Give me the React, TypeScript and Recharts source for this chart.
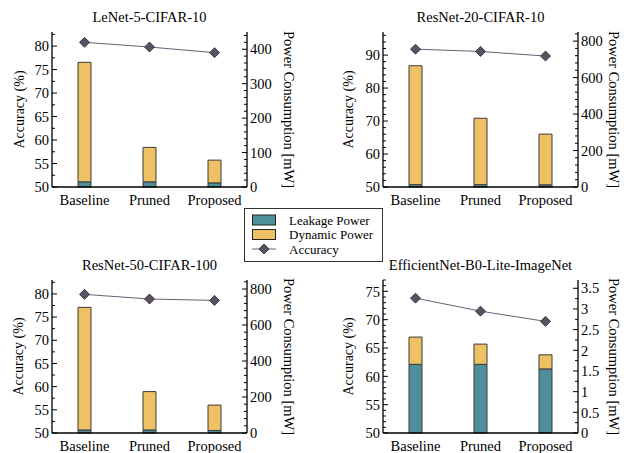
import { Bar, ComposedChart, Line, XAxis, YAxis } from "recharts"

const categories = ["Baseline", "Pruned", "Proposed"]

// power in mW, accuracy in %
const lenetLeakage = [15, 15, 12]
const lenetDynamic = [347, 100, 66]
const lenetAccuracy = [80.8, 79.8, 78.6]

const resnet20Leakage = [13, 13, 12]
const resnet20Dynamic = [652, 364, 278]
const resnet20Accuracy = [91.8, 91.1, 89.7]

const resnet50Leakage = [17, 17, 14]
const resnet50Dynamic = [681, 213, 141]
const resnet50Accuracy = [79.9, 78.9, 78.6]

const effnetLeakage = [1.66, 1.66, 1.55]
const effnetDynamic = [0.66, 0.49, 0.34]
const effnetAccuracy = [73.8, 71.5, 69.7]

const accTicks5 = [50, 55, 60, 65, 70, 75, 80]
const accTicks10 = [50, 60, 70, 80, 90]
const accTicksEff = [50, 55, 60, 65, 70, 75]
const powTicksLenet = [0, 100, 200, 300, 400]
const powTicksResnet = [0, 200, 400, 600, 800]
const powTicksEff = [0, 0.5, 1, 1.5, 2, 2.5, 3, 3.5]

const LEAK = "#4f8f9c"
const DYN = "#edc164"
const LINE = "#6b6078"
const DIAMOND = "#5b5066"
const FONT = "Liberation Serif, DejaVu Serif, serif"

function withMinors(majors: number[], step: number, max: number) {
  const out: number[] = []
  const n = Math.floor((max - majors[0]) / step + 1e-6)
  for (let i = 0; i <= n; i++) out.push(+(majors[0] + i * step).toFixed(4))
  return out
}

const isMajor = (v: number, majors: number[]) =>
  majors.some((m) => Math.abs(m - v) < 1e-6)

function AxisTick(props: any) {
  const { x, y, payload, majors, side } = props
  const major = isMajor(payload.value, majors)
  const len = major ? 5 : 3
  const dir = side === "left" ? 1 : -1
  return (
    <g>
      <line x1={x} x2={x + dir * len} y1={y} y2={y} stroke="#000" strokeWidth={1} />
      {major && (
        <text
          x={x - dir * 3}
          y={y}
          dy="0.36em"
          textAnchor={side === "left" ? "end" : "start"}
          fontSize={14.5}
          fontFamily={FONT}
          fill="#000"
        >
          {String(payload.value)}
        </text>
      )}
    </g>
  )
}

function Diamond(props: any) {
  const { cx, cy } = props
  if (cx == null || cy == null) return null
  const r = 5
  return (
    <polygon
      points={`${cx},${cy - r} ${cx + r},${cy} ${cx},${cy + r} ${cx - r},${cy}`}
      fill={DIAMOND}
      stroke="#222"
      strokeWidth={0.8}
    />
  )
}

interface PanelProps {
  title: string
  leakage: number[]
  dynamic: number[]
  accuracy: number[]
  accDomain: [number, number]
  accMajors: number[]
  accMinor: number
  powDomain: [number, number]
  powMajors: number[]
  powMinor: number
  left: number
  top: number
  plotH: number
  leftLabelX: number
  rightLabelX: number
}

const PLOT_W = 195

function PanelLabels(p: PanelProps) {
  const cx = p.left + PLOT_W / 2
  const cy = p.top + p.plotH / 2
  return (
    <g fontFamily={FONT} fill="#000">
      <text x={cx} y={p.top - 15} dy="0.36em" textAnchor="middle" fontSize={14.5}>
        {p.title}
      </text>
      <text
        transform={`translate(${p.leftLabelX},${cy}) rotate(-90)`}
        dy="0.36em"
        textAnchor="middle"
        fontSize={14}
      >
        Accuracy (%)
      </text>
      <text
        transform={`translate(${p.rightLabelX},${cy}) rotate(90)`}
        dy="0.36em"
        textAnchor="middle"
        fontSize={14.5}
      >
        Power Consumption [mW]
      </text>
    </g>
  )
}

function Panel(p: PanelProps) {
  const rows = categories.map((name, i) => ({
    name,
    leakage: p.leakage[i],
    dynamic: p.dynamic[i],
    accuracy: p.accuracy[i],
  }))
  const axisLine = { stroke: "#000", strokeWidth: 1.3 }
  return (
    <div style={{ position: "absolute", left: p.left - 50, top: p.top - 32 }}>
      <ComposedChart
        width={PLOT_W + 100}
        height={p.plotH + 56}
        data={rows}
        margin={{ top: 32, right: 10, bottom: 2, left: 10 }}
      >
        <XAxis
          dataKey="name"
          tickLine={false}
          axisLine={axisLine}
          tick={{ fill: "#000", fontSize: 14.5, fontFamily: FONT }}
          tickMargin={2}
          height={22}
          interval={0}
        />
        <XAxis
          xAxisId="top"
          dataKey="name"
          orientation="top"
          height={0}
          tick={false}
          tickLine={false}
          axisLine={axisLine}
        />
        <YAxis
          yAxisId="acc"
          orientation="left"
          type="number"
          width={40}
          domain={p.accDomain}
          ticks={withMinors(p.accMajors, p.accMinor, p.accDomain[1])}
          interval={0}
          tickSize={0}
          tickMargin={0}
          tickLine={false}
          axisLine={axisLine}
          tick={(t: any) => <AxisTick {...t} majors={p.accMajors} side="left" />}
        />
        <YAxis
          yAxisId="pow"
          orientation="right"
          type="number"
          width={40}
          domain={p.powDomain}
          ticks={withMinors(p.powMajors, p.powMinor, p.powDomain[1])}
          interval={0}
          tickSize={0}
          tickMargin={0}
          tickLine={false}
          axisLine={axisLine}
          tick={(t: any) => <AxisTick {...t} majors={p.powMajors} side="right" />}
        />
        <Bar
          yAxisId="pow"
          dataKey="leakage"
          stackId="p"
          fill={LEAK}
          stroke="#3b3b3b"
          strokeWidth={1}
          barSize={13}
          isAnimationActive={false}
        />
        <Bar
          yAxisId="pow"
          dataKey="dynamic"
          stackId="p"
          fill={DYN}
          stroke="#3b3b3b"
          strokeWidth={1}
          barSize={13}
          isAnimationActive={false}
        />
        <Line
          yAxisId="acc"
          dataKey="accuracy"
          stroke={LINE}
          strokeWidth={1}
          dot={<Diamond />}
          activeDot={false}
          isAnimationActive={false}
        />
      </ComposedChart>
    </div>
  )
}

function LegendBox() {
  return (
    <g transform="translate(244,208)">
      <rect x={0.5} y={0.5} width={138} height={53} fill="#fff" stroke="#333" strokeWidth={1} />
      <rect x={8.5} y={7} width={23} height={10} fill={LEAK} stroke="#222" strokeWidth={1} />
      <rect x={8.5} y={21.5} width={23} height={10} fill={DYN} stroke="#222" strokeWidth={1} />
      <line x1={8} x2={32} y1={41} y2={41} stroke={LINE} strokeWidth={1} />
      <Diamond cx={20} cy={41} />
      {["Leakage Power", "Dynamic Power", "Accuracy"].map((t, i) => (
        <text key={t} x={45} y={12 + i * 14.5} dy="0.36em" fontSize={13} fontFamily={FONT} fill="#000">
          {t}
        </text>
      ))}
    </g>
  )
}

const panels: PanelProps[] = [
  {
    title: "LeNet-5-CIFAR-10",
    leakage: lenetLeakage,
    dynamic: lenetDynamic,
    accuracy: lenetAccuracy,
    accDomain: [50, 83],
    accMajors: accTicks5,
    accMinor: 2.5,
    powDomain: [0, 450],
    powMajors: powTicksLenet,
    powMinor: 20,
    left: 52,
    top: 32,
    plotH: 155,
    leftLabelX: 19,
    rightLabelX: 289,
  },
  {
    title: "ResNet-20-CIFAR-10",
    leakage: resnet20Leakage,
    dynamic: resnet20Dynamic,
    accuracy: resnet20Accuracy,
    accDomain: [50, 97],
    accMajors: accTicks10,
    accMinor: 2,
    powDomain: [0, 850],
    powMajors: powTicksResnet,
    powMinor: 40,
    left: 383,
    top: 32,
    plotH: 155,
    leftLabelX: 348,
    rightLabelX: 614,
  },
  {
    title: "ResNet-50-CIFAR-100",
    leakage: resnet50Leakage,
    dynamic: resnet50Dynamic,
    accuracy: resnet50Accuracy,
    accDomain: [50, 83],
    accMajors: accTicks5,
    accMinor: 2.5,
    powDomain: [0, 850],
    powMajors: powTicksResnet,
    powMinor: 40,
    left: 52,
    top: 280,
    plotH: 153,
    leftLabelX: 18,
    rightLabelX: 289,
  },
  {
    title: "EfficientNet-B0-Lite-ImageNet",
    leakage: effnetLeakage,
    dynamic: effnetDynamic,
    accuracy: effnetAccuracy,
    accDomain: [50, 77],
    accMajors: accTicksEff,
    accMinor: 1,
    powDomain: [0, 3.7],
    powMajors: powTicksEff,
    powMinor: 0.25,
    left: 383,
    top: 280,
    plotH: 153,
    leftLabelX: 348,
    rightLabelX: 614,
  },
]

export default function App() {
  return (
    <div
      style={{
        position: "absolute",
        left: 0,
        top: 0,
        width: 624,
        height: 453,
        background: "#fff",
        overflow: "hidden",
      }}
    >
      {panels.map((p) => (
        <Panel key={p.title} {...p} />
      ))}
      <svg
        width={624}
        height={453}
        style={{ position: "absolute", left: 0, top: 0, pointerEvents: "none" }}
      >
        {panels.map((p) => (
          <PanelLabels key={p.title} {...p} />
        ))}
        <LegendBox />
      </svg>
    </div>
  )
}
